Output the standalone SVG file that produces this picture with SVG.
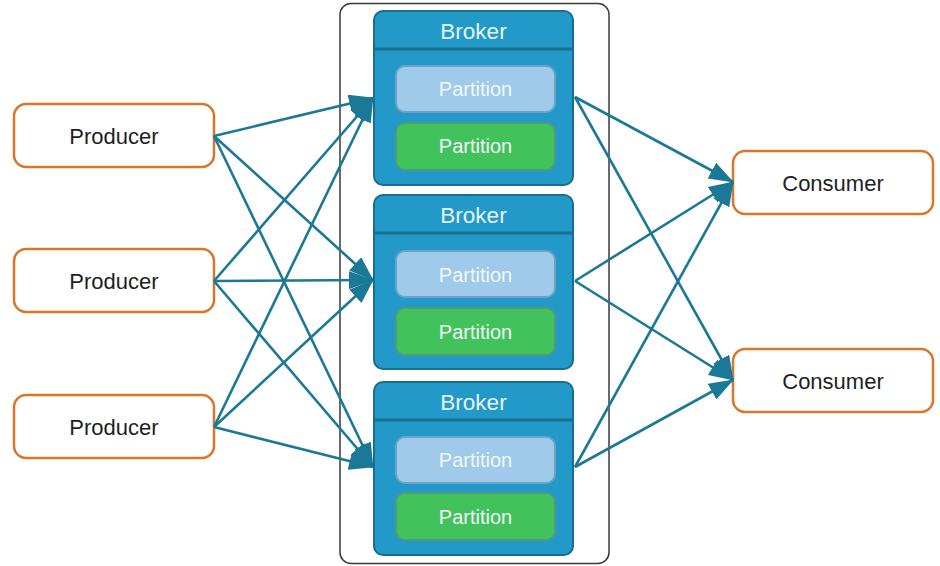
<svg xmlns="http://www.w3.org/2000/svg" width="940" height="566" viewBox="0 0 940 566">
  <style>
    .client rect { fill: #ffffff; stroke: #d8772b; stroke-width: 2.5; }
    .client text { font-family: "Liberation Sans", Arial, sans-serif; font-size: 22px; fill: #1e1e1e; text-anchor: middle; }
    .broker .body { fill: #2299c9; stroke: #186e8d; stroke-width: 2; }
    .broker .sep { stroke: #186e8d; stroke-width: 3; }
    .broker .title { font-family: "Liberation Sans", Arial, sans-serif; font-size: 22.5px; fill: #e6f5fb; text-anchor: middle; }
    .part text { font-family: "Liberation Sans", Arial, sans-serif; font-size: 20px; fill: #f2f8fc; text-anchor: middle; }
    .p-blue { fill: #9fcaea; stroke: #6fa2c8; stroke-width: 2; }
    .p-green { fill: #41c25b; stroke: #4e9c79; stroke-width: 2; }
    .edges line { stroke: #1b7896; stroke-width: 2.6; fill: none; }
  </style>
  <defs>
    <marker id="head" viewBox="0 0 25 18" refX="24" refY="9" markerWidth="25" markerHeight="18" markerUnits="userSpaceOnUse" orient="auto">
      <path d="M0,0 L25,9 L0,18 z" fill="#1b7896"/>
    </marker>
  </defs>

  <rect width="940" height="566" fill="#ffffff"/>

  <!-- cluster frame -->
  <rect id="cluster" x="340" y="3.5" width="269" height="560" rx="11" fill="#ffffff" stroke="#3a3a3a" stroke-width="1.5"/>

  <!-- brokers -->
  <g id="broker1" class="broker">
    <rect class="body" x="374" y="11" width="199" height="174" rx="9"/>
    <line class="sep" x1="375" y1="49" x2="572" y2="49"/>
    <text class="title" x="473.5" y="39">Broker</text>
    <g class="part">
      <rect class="p-blue" x="396" y="66" width="159" height="46" rx="9"/>
      <text x="475.5" y="96">Partition</text>
      <rect class="p-green" x="396" y="123" width="159" height="47" rx="9"/>
      <text x="475.5" y="153">Partition</text>
    </g>
  </g>
  <g id="broker2" class="broker">
    <rect class="body" x="374" y="195" width="199" height="174" rx="9"/>
    <line class="sep" x1="375" y1="233" x2="572" y2="233"/>
    <text class="title" x="473.5" y="223">Broker</text>
    <g class="part">
      <rect class="p-blue" x="396" y="251" width="159" height="46" rx="9"/>
      <text x="475.5" y="282">Partition</text>
      <rect class="p-green" x="396" y="308" width="159" height="47" rx="9"/>
      <text x="475.5" y="339">Partition</text>
    </g>
  </g>
  <g id="broker3" class="broker">
    <rect class="body" x="374" y="382" width="199" height="173" rx="9"/>
    <line class="sep" x1="375" y1="420" x2="572" y2="420"/>
    <text class="title" x="473.5" y="410">Broker</text>
    <g class="part">
      <rect class="p-blue" x="396" y="437" width="159" height="46" rx="9"/>
      <text x="475.5" y="467">Partition</text>
      <rect class="p-green" x="396" y="493" width="159" height="47" rx="9"/>
      <text x="475.5" y="524">Partition</text>
    </g>
  </g>

  <!-- producers -->
  <g id="producer1" class="client">
    <rect x="14" y="104" width="200" height="63" rx="12"/>
    <text x="114" y="144">Producer</text>
  </g>
  <g id="producer2" class="client">
    <rect x="14" y="249" width="200" height="63" rx="12"/>
    <text x="114" y="289">Producer</text>
  </g>
  <g id="producer3" class="client">
    <rect x="14" y="395" width="200" height="63" rx="12"/>
    <text x="114" y="435">Producer</text>
  </g>

  <!-- consumers -->
  <g id="consumer1" class="client">
    <rect x="733" y="151" width="200" height="63" rx="12"/>
    <text x="833" y="191">Consumer</text>
  </g>
  <g id="consumer2" class="client">
    <rect x="733" y="349" width="200" height="63" rx="12"/>
    <text x="833" y="389">Consumer</text>
  </g>

  <!-- connectors -->
  <g id="edges" class="edges">
    <line x1="214" y1="136" x2="373" y2="98" marker-end="url(#head)"/>
    <line x1="214" y1="136" x2="373" y2="280" marker-end="url(#head)"/>
    <line x1="214" y1="136" x2="373" y2="467" marker-end="url(#head)"/>
    <line x1="214" y1="281" x2="373" y2="98" marker-end="url(#head)"/>
    <line x1="214" y1="281" x2="373" y2="280" marker-end="url(#head)"/>
    <line x1="214" y1="281" x2="373" y2="467" marker-end="url(#head)"/>
    <line x1="214" y1="427" x2="373" y2="98" marker-end="url(#head)"/>
    <line x1="214" y1="427" x2="373" y2="280" marker-end="url(#head)"/>
    <line x1="214" y1="427" x2="373" y2="467" marker-end="url(#head)"/>
    <line x1="575" y1="97" x2="733" y2="182" marker-end="url(#head)"/>
    <line x1="575" y1="97" x2="733" y2="380" marker-end="url(#head)"/>
    <line x1="575" y1="281" x2="733" y2="182" marker-end="url(#head)"/>
    <line x1="575" y1="281" x2="733" y2="380" marker-end="url(#head)"/>
    <line x1="575" y1="467" x2="733" y2="182" marker-end="url(#head)"/>
    <line x1="575" y1="467" x2="733" y2="380" marker-end="url(#head)"/>
  </g>
</svg>
